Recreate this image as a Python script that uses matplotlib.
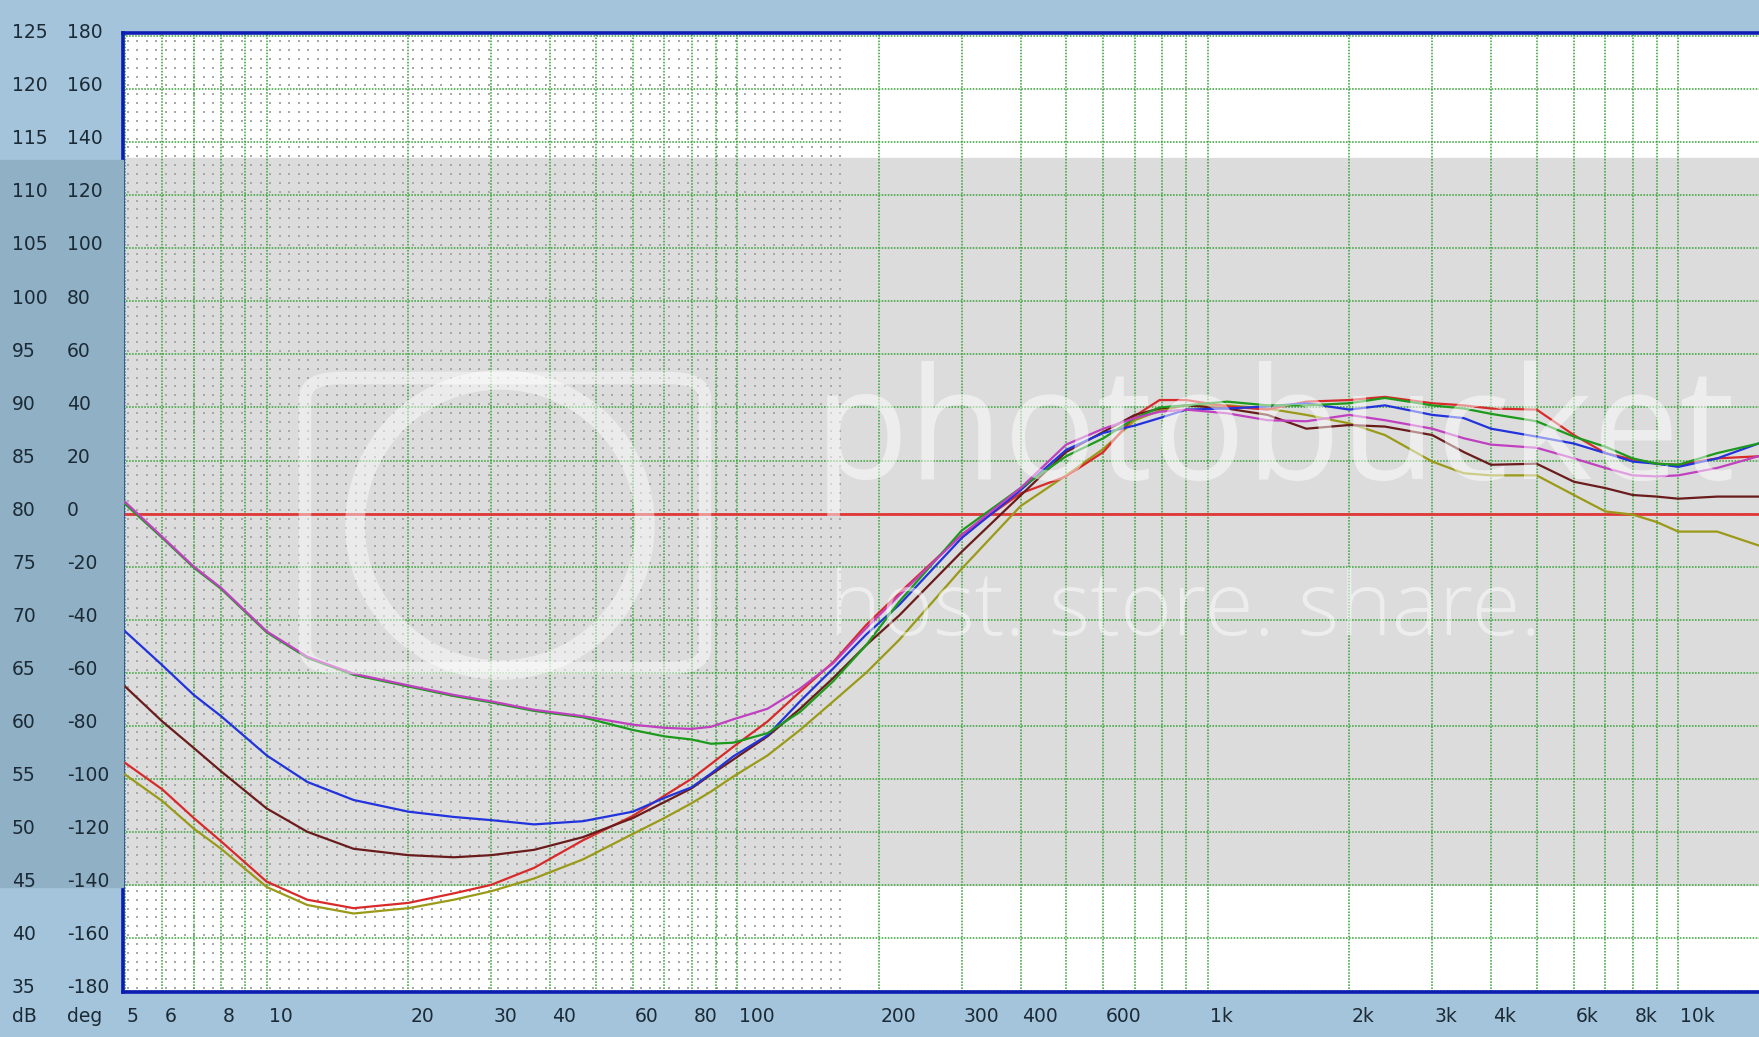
import numpy as np
import matplotlib
matplotlib.use("Agg")
import matplotlib.pyplot as plt
from matplotlib.patches import Rectangle, FancyBboxPatch, Ellipse

# frequency grid (Hz) the curves were read at
freq = [5, 6, 7, 8, 10, 12.2, 15.3, 20, 25, 30, 37, 47, 60, 70, 80, 88, 98, 116,
        136, 160, 188, 221, 300, 400, 500, 600, 700, 790, 900, 1100, 1340, 1620,
        2000, 2380, 3000, 3500, 4000, 5000, 6000, 7000, 8000, 9000, 10000, 12100, 14800]

spl_green = [80.9, 77.7, 74.9, 72.9, 68.8, 66.4, 64.8, 63.7, 62.8, 62.2, 61.4, 60.8, 59.6,
             59.0, 58.7, 58.3, 58.4, 59.3, 61.3, 64.2, 67.6, 71.7, 78.4, 82.4, 85.4, 87.1,
             89.0, 90.0, 90.2, 90.55, 90.2, 90.2, 90.4, 90.9, 90.2, 89.9, 89.4, 88.7, 87.25,
             86.3, 85.2, 84.7, 84.6, 85.7, 86.6]
spl_magenta = [81.1, 77.8, 75.0, 73.0, 68.9, 66.5, 64.9, 63.8, 62.9, 62.3, 61.5, 60.9, 60.1,
               59.8, 59.7, 59.9, 60.6, 61.6, 63.5, 65.9, 69.2, 72.3, 78.0, 82.4, 86.5, 88.0,
               89.0, 89.6, 89.8, 89.45, 88.8, 88.7, 89.3, 88.8, 88.0, 87.1, 86.5, 86.2, 85.2,
               84.3, 83.6, 83.5, 83.6, 84.3, 85.4]
spl_blue = [68.9, 65.7, 62.9, 60.9, 57.2, 54.7, 53.0, 51.9, 51.4, 51.1, 50.7, 51.0, 51.9,
            53.2, 54.2, 55.5, 57.1, 59.1, 62.3, 65.4, 68.6, 71.4, 77.7, 82.2, 86.0, 87.6,
            88.3, 89.0, 89.8, 89.9, 90.1, 90.4, 89.8, 90.2, 89.3, 89.0, 88.0, 87.25, 86.6,
            85.7, 84.9, 84.7, 84.4, 85.2, 86.6]
spl_brown = [63.7, 60.4, 57.9, 55.7, 52.2, 50.0, 48.4, 47.8, 47.6, 47.8, 48.3, 49.5, 51.3,
             52.8, 54.1, 55.4, 56.8, 59.0, 61.6, 64.5, 67.6, 70.4, 76.4, 81.7, 85.8, 87.7,
             89.3, 89.9, 90.2, 89.9, 89.3, 88.0, 88.35, 88.2, 87.4, 85.8, 84.6, 84.7, 83.0,
             82.4, 81.75, 81.6, 81.4, 81.6, 81.6]
spl_red = [56.5, 54.0, 51.3, 49.1, 45.3, 43.6, 42.8, 43.3, 44.2, 45.0, 46.6, 49.2, 51.5,
           53.4, 55.0, 56.4, 58.0, 60.4, 63.2, 66.0, 69.5, 72.5, 78.0, 81.9, 83.5, 85.8,
           89.2, 90.7, 90.7, 90.1, 89.8, 90.55, 90.7, 91.0, 90.4, 90.2, 89.9, 89.8, 87.4,
           85.7, 85.1, 84.7, 84.6, 85.2, 85.4]
spl_olive = [55.4, 52.9, 50.3, 48.4, 44.8, 43.1, 42.3, 42.8, 43.6, 44.4, 45.6, 47.4, 49.8,
             51.3, 52.7, 53.8, 55.2, 57.2, 59.6, 62.3, 65.0, 68.1, 74.8, 80.7, 83.6, 86.1,
             88.8, 89.7, 90.2, 90.2, 89.9, 89.3, 88.5, 87.4, 84.9, 83.8, 83.6, 83.6, 81.75,
             80.2, 79.9, 79.2, 78.3, 78.3, 77.0]

ref_level = 80  # 0 deg line

db_ticks = list(range(35, 130, 5))
deg_ticks = list(range(-180, 200, 20))
freq_labels = [(5, "5"), (6, "6"), (8, "8"), (10, "10"), (20, "20"), (30, "30"), (40, "40"),
               (60, "60"), (80, "80"), (100, "100"), (200, "200"), (300, "300"), (400, "400"),
               (600, "600"), (1000, "1k"), (2000, "2k"), (3000, "3k"), (4000, "4k"),
               (6000, "6k"), (8000, "8k"), (10000, "10k")]

W, H = 1759, 1037
fig = plt.figure(figsize=(W / 100, H / 100), dpi=100)
fig.patch.set_facecolor("#a3c4db")

# darker band of the left strip (watermark shading)
y_px = lambda db: 568.3 + (75 - db) * 10.61
band_top, band_bot = 113.5, 45
fig.patches.append(Rectangle((0, 1 - y_px(band_bot) / H), 123 / W,
                             (y_px(band_bot) - y_px(band_top)) / H,
                             transform=fig.transFigure, color="#8fb0c5", zorder=0))

ax = fig.add_axes([123 / W, 1 - 992 / H, 1 - 123 / W, (992 - 33) / H])
ax.set_facecolor("white")
ax.set_xscale("log")
ax.set_xlim(4.95, 14845)
ax.set_ylim(34.9, 125.3)

ax.axhspan(band_bot, band_top, color="#dcdcdc", zorder=0)

# dotted screen pattern on the left part
gx, gy = np.meshgrid(np.arange(0.003, 0.439, 9.5 / 1636), np.arange(0.004, 1.0, 8.85 / 959))
ax.scatter(gx.ravel(), gy.ravel(), s=1.1, marker="s", color="#a8a8a8", linewidths=0,
           transform=ax.transAxes, zorder=0.5)

# grid
grid_c = "#3ea53e"
vlines = [m * 10 ** e for e in range(0, 5) for m in range(1, 10)]
for v in vlines:
    if 5 <= v <= 14000:
        ax.axvline(v, color=grid_c, lw=1.15, ls=(0, (1.0, 0.9)), zorder=1)
for d in db_ticks:
    ax.axhline(d, color=grid_c, lw=1.15, ls=(0, (1.0, 0.9)), zorder=1)

# watermark
wm = dict(color="white", alpha=0.5, zorder=1.2, transform=fig.transFigure)
fig.text(1275 / W, 1 - 438 / H, "photobucket", fontsize=112, family="Open Sans",
         ha="center", va="center", **wm)
fig.text(1185 / W, 1 - 612 / H, "host. store. share.", fontsize=64, family="Open Sans",
         weight="light", ha="center", va="center", **wm)
fig.patches.append(FancyBboxPatch((305 / W, 1 - 668 / H), 400 / W, 290 / H,
                                  boxstyle="round,pad=0,rounding_size=0.02",
                                  fill=False, ec="white", lw=9, alpha=0.45,
                                  transform=fig.transFigure, zorder=1.2))
fig.patches.append(Ellipse((500 / W, 1 - 525 / H), 290 / W, 290 / H, fill=False,
                           ec="white", lw=14, alpha=0.45, transform=fig.transFigure,
                           zorder=1.2))

ax.axhline(ref_level, color="#e03838", lw=2.0, zorder=2)

curves = [(spl_olive, "#9a9a18"), (spl_red, "#d82a2a"), (spl_brown, "#6a1c1c"),
          (spl_blue, "#2233dd"), (spl_green, "#1c9a1c"), (spl_magenta, "#c040c0")]
for vals, col in curves:
    ax.plot(freq, vals, color=col, lw=1.6, zorder=3)

ax.set_xticks([])
ax.set_yticks([])
ax.minorticks_off()
for s in ("left", "top", "bottom"):
    ax.spines[s].set_color("#0c1cb4")
    ax.spines[s].set_linewidth(2.6)
ax.spines["right"].set_visible(False)

# axis labels drawn as text like the original window
txt = dict(fontsize=13.5, color="#1c2a36", va="center")
for d, g in zip(db_ticks, deg_ticks):
    yf = 1 - (y_px(d) - 5) / H
    fig.text(12 / W, yf, str(d), **txt)
    fig.text(67 / W, yf, str(g), **txt)
yb = 1 - 1016 / H
fig.text(12 / W, yb, "dB", **txt)
fig.text(67 / W, yb, "deg", **txt)
for f, lab in freq_labels:
    xd = ax.transData.transform((f, 50))[0]
    fig.text((xd + 2) / W, yb, lab, **txt)

fig.savefig("out.png", dpi=100, facecolor=fig.get_facecolor())
